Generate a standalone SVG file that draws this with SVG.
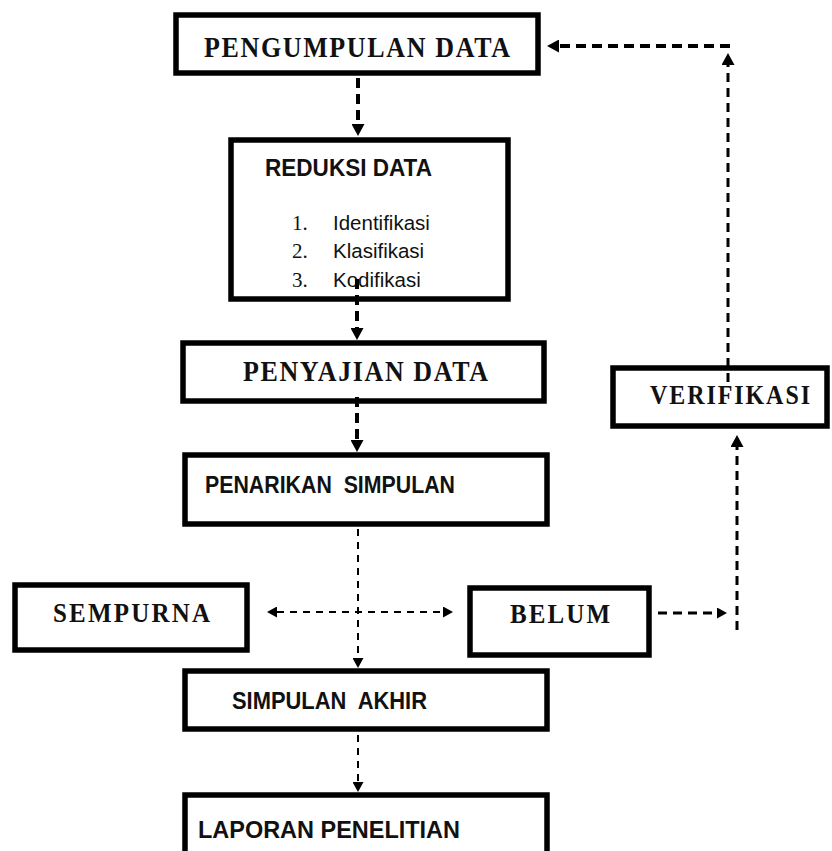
<svg xmlns="http://www.w3.org/2000/svg" width="832" height="851" viewBox="0 0 832 851">
<style>
.box{fill:#fff;stroke:#000;stroke-width:5.5}
.serif{font-family:"Liberation Serif","Times New Roman",serif;font-weight:bold;fill:#111}
.sans{font-family:"Liberation Sans",Arial,sans-serif;font-weight:bold;fill:#111}
.item{font-family:"Liberation Sans",Arial,sans-serif;fill:#111}
.num{font-family:"Liberation Serif","Times New Roman",serif;fill:#111}
.thick{fill:none;stroke:#000;stroke-width:4;stroke-dasharray:10 6}
.mid{fill:none;stroke:#000;stroke-width:3;stroke-dasharray:9 6}
.thin{fill:none;stroke:#000;stroke-width:2;stroke-dasharray:7 6}
</style>
<defs>
<marker id="ah" markerUnits="userSpaceOnUse" viewBox="0 0 12 13" refX="0" refY="6.5" markerWidth="12" markerHeight="13" orient="auto-start-reverse">
<path d="M0,0 L12,6.5 L0,13 z" fill="#000"/>
</marker>
<marker id="ahs" markerUnits="userSpaceOnUse" viewBox="0 0 10 11" refX="0" refY="5.5" markerWidth="10" markerHeight="11" orient="auto-start-reverse">
<path d="M0,0 L10,5.5 L0,11 z" fill="#000"/>
</marker>
</defs>

<g id="pengumpulan">
<rect class="box" x="176" y="15" width="362" height="58"/>
<text class="serif" transform="translate(204,57) scale(1,1.12)" x="0" y="0" font-size="26" textLength="306" lengthAdjust="spacing">PENGUMPULAN DATA</text>
</g>

<g id="reduksi">
<rect class="box" x="231" y="140" width="277" height="159"/>
<text class="sans" x="265" y="176" font-size="23" textLength="167" lengthAdjust="spacingAndGlyphs">REDUKSI DATA</text>
<text class="num" x="292" y="230" font-size="21">1.</text>
<text class="item" x="333" y="230" font-size="20.5">Identifikasi</text>
<text class="num" x="292" y="258" font-size="21">2.</text>
<text class="item" x="333" y="258" font-size="20.5">Klasifikasi</text>
<text class="num" x="292" y="287" font-size="21">3.</text>
<text class="item" x="333" y="287" font-size="20.5">Kodifikasi</text>
</g>

<g id="penyajian">
<rect class="box" x="183" y="343" width="361" height="58"/>
<text class="serif" transform="translate(243,381) scale(1,1.12)" x="0" y="0" font-size="26" textLength="245" lengthAdjust="spacing">PENYAJIAN DATA</text>
</g>

<g id="penarikan">
<rect class="box" x="185" y="455" width="362" height="69"/>
<text class="sans" x="205" y="493" font-size="23.5" textLength="250" lengthAdjust="spacingAndGlyphs" xml:space="preserve">PENARIKAN  SIMPULAN</text>
</g>

<g id="sempurna">
<rect class="box" x="15" y="585" width="232" height="65"/>
<text class="serif" transform="translate(53,622) scale(1,1.12)" x="0" y="0" font-size="25" textLength="157" lengthAdjust="spacing">SEMPURNA</text>
</g>

<g id="belum">
<rect class="box" x="470" y="588" width="179" height="67"/>
<text class="serif" transform="translate(510,623) scale(1,1.12)" x="0" y="0" font-size="25" textLength="100" lengthAdjust="spacing">BELUM</text>
</g>

<g id="verifikasi">
<rect class="box" x="613" y="368" width="214" height="58"/>
<text class="serif" transform="translate(650,404) scale(1,1.12)" x="0" y="0" font-size="24" textLength="160" lengthAdjust="spacing">VERIFIKASI</text>
</g>

<g id="simpulan-akhir">
<rect class="box" x="185" y="671" width="362" height="58"/>
<text class="sans" x="232" y="709" font-size="23" textLength="195" lengthAdjust="spacingAndGlyphs" xml:space="preserve">SIMPULAN  AKHIR</text>
</g>

<g id="laporan">
<rect class="box" x="185" y="795" width="362" height="70"/>
<text class="sans" x="198" y="838" font-size="24.5" textLength="262" lengthAdjust="spacingAndGlyphs">LAPORAN PENELITIAN</text>
</g>

<g id="connectors">
<line class="thick" x1="358" y1="78" x2="358" y2="124" marker-end="url(#ah)"/>
<line class="thick" x1="357" y1="279" x2="357" y2="328" marker-end="url(#ah)"/>
<line class="thick" x1="357" y1="397" x2="357" y2="440" marker-end="url(#ah)"/>
<line class="thin" x1="358" y1="529" x2="358" y2="658" marker-end="url(#ahs)"/>
<line class="thin" x1="358" y1="735" x2="358" y2="782" marker-end="url(#ahs)"/>
<line class="thin" x1="277" y1="612" x2="443" y2="612" marker-start="url(#ahs)" marker-end="url(#ahs)"/>
<line class="mid" x1="658" y1="613" x2="717" y2="613" marker-end="url(#ahs)"/>
<line class="mid" x1="737" y1="630" x2="737" y2="447" marker-end="url(#ah)"/>
<line class="mid" x1="728" y1="382" x2="728" y2="65" marker-end="url(#ah)"/>
<line class="thick" x1="730" y1="46" x2="559" y2="46" marker-end="url(#ah)"/>
</g>
</svg>
